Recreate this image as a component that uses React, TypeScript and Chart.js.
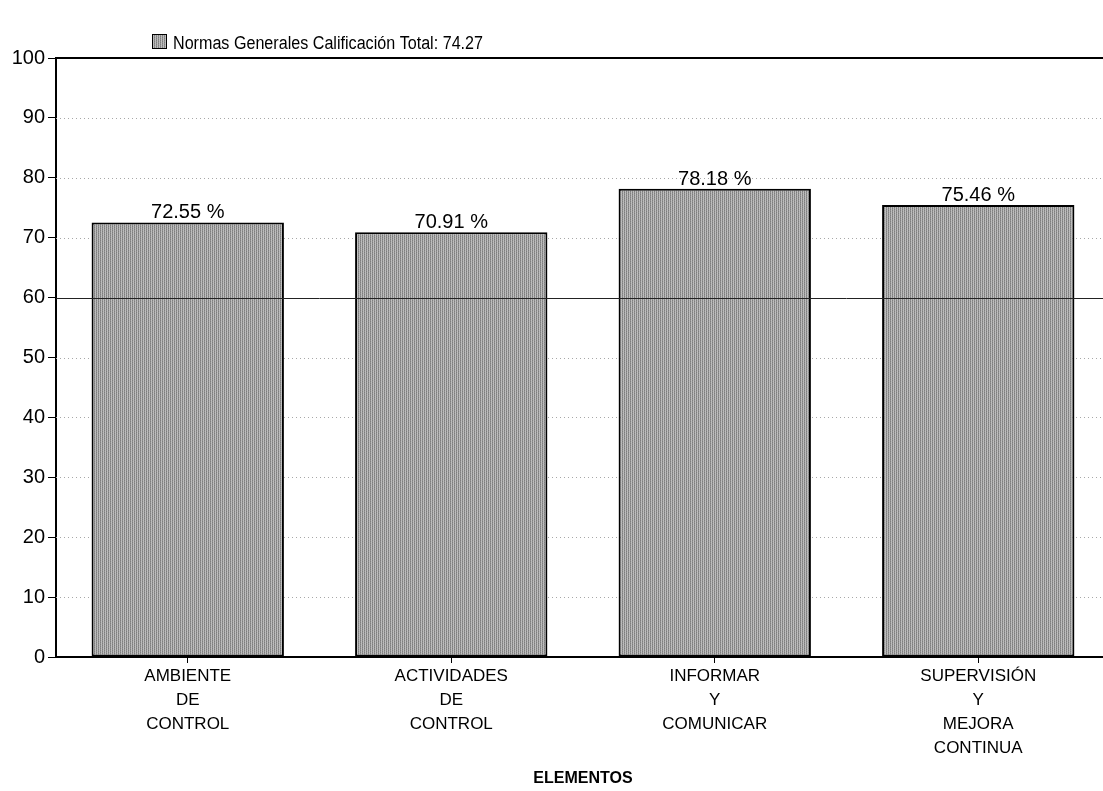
import React, { useEffect, useRef } from "react";
import { Chart, registerables } from "chart.js";

Chart.register(...registerables);

const categories: string[][] = [
  ["AMBIENTE", "DE", "CONTROL"],
  ["ACTIVIDADES", "DE", "CONTROL"],
  ["INFORMAR", "Y", "COMUNICAR"],
  ["SUPERVISIÓN", "Y", "MEJORA", "CONTINUA"],
];
const values: number[] = [72.55, 70.91, 78.18, 75.46];
const seriesLabel = "Normas Generales Calificación Total: 74.27";
const axisTitle = "ELEMENTOS";
const gridValues: number[] = [10, 20, 30, 40, 50, 70, 80, 90];
const thresholdValue = 60;
const topValue = 100;

function makePattern(): CanvasPattern | string {
  const c = document.createElement("canvas");
  c.width = 4;
  c.height = 4;
  const g = c.getContext("2d");
  if (!g) return "#a0a0a0";
  const colors = ["#7e7e7e", "#b8b8b8", "#8e8e8e", "#c0c0c0"];
  for (let y = 0; y < 4; y++) {
    for (let x = 0; x < 4; x++) {
      g.fillStyle = colors[(x + y * 2) % 4];
      g.fillRect(x, y, 1, 1);
    }
  }
  const p = g.createPattern(c, "repeat");
  return p || "#a0a0a0";
}

export default function App() {
  const ref = useRef<HTMLCanvasElement | null>(null);

  useEffect(() => {
    const canvas = ref.current;
    if (!canvas) return;
    const pattern = makePattern();

    const decor = {
      id: "decor",
      beforeDatasetsDraw(chart: any) {
        const { ctx, chartArea } = chart;
        const y = chart.scales.y;
        ctx.save();
        ctx.strokeStyle = "#a8a8a8";
        ctx.lineWidth = 1;
        ctx.setLineDash([1, 3]);
        gridValues.forEach((v) => {
          const py = Math.round(y.getPixelForValue(v)) + 0.5;
          ctx.beginPath();
          ctx.moveTo(chartArea.left, py);
          ctx.lineTo(chartArea.right, py);
          ctx.stroke();
        });
        ctx.restore();
      },
      afterDatasetsDraw(chart: any) {
        const { ctx, chartArea } = chart;
        const y = chart.scales.y;
        ctx.save();
        const p60 = Math.round(y.getPixelForValue(thresholdValue)) + 0.5;
        ctx.strokeStyle = "#222222";
        ctx.lineWidth = 1;
        ctx.beginPath();
        ctx.moveTo(chartArea.left, p60);
        ctx.lineTo(chartArea.right, p60);
        ctx.stroke();
        const p100 = Math.round(y.getPixelForValue(topValue));
        ctx.strokeStyle = "#000";
        ctx.lineWidth = 2;
        ctx.beginPath();
        ctx.moveTo(chartArea.left, p100);
        ctx.lineTo(chartArea.right, p100);
        ctx.stroke();
        const meta = chart.getDatasetMeta(0);
        ctx.fillStyle = "#000";
        ctx.font = "20px 'Liberation Sans', Arial, sans-serif";
        ctx.textAlign = "center";
        ctx.textBaseline = "alphabetic";
        meta.data.forEach((bar: any, i: number) => {
          ctx.fillText(values[i].toFixed(2) + " %", bar.x, bar.y - 4);
        });
        // legend
        ctx.fillStyle = pattern as any;
        ctx.fillRect(153, 35, 13, 13);
        ctx.strokeStyle = "#000";
        ctx.lineWidth = 1;
        ctx.strokeRect(152.5, 34.5, 14, 14);
        ctx.fillStyle = "#000";
        ctx.font = "18px 'Liberation Sans', Arial, sans-serif";
        ctx.textAlign = "left";
        const w = ctx.measureText(seriesLabel).width;
        const sx = 310 / w;
        ctx.translate(173, 49);
        ctx.scale(sx, 1);
        ctx.fillText(seriesLabel, 0, 0);
        ctx.restore();
      },
    };

    const chart = new Chart(canvas, {
      type: "bar",
      data: {
        labels: categories,
        datasets: [
          {
            label: seriesLabel,
            data: values,
            backgroundColor: pattern as any,
            borderColor: "#000",
            borderWidth: 2,
            borderSkipped: false,
            barPercentage: 0.73,
            categoryPercentage: 1,
          },
        ],
      },
      plugins: [decor],
      options: {
        responsive: false,
        animation: false,
        devicePixelRatio: 1,
        layout: { padding: { top: 58, right: 10, left: 0, bottom: 0 } },
        plugins: {
          legend: { display: false },
          tooltip: { enabled: false },
          title: { display: false },
        },
        scales: {
          x: {
            offset: true,
            grid: {
              display: true,
              drawOnChartArea: false,
              drawTicks: true,
              tickLength: 6,
              color: "#000",
              offset: false,
            },
            border: { display: true, color: "#000", width: 2 },
            ticks: {
              color: "#000",
              padding: 1,
              maxRotation: 0,
              autoSkip: false,
              font: { family: "'Liberation Sans', Arial, sans-serif", size: 17, lineHeight: 24 / 17 },
            },
            title: {
              display: true,
              text: axisTitle,
              color: "#000",
              padding: { top: 0, bottom: 3 },
              font: { family: "'Liberation Sans', Arial, sans-serif", size: 16, weight: "bold" },
            },
            afterFit(scale: any) {
              scale.height = 134;
            },
          },
          y: {
            min: 0,
            max: 100,
            ticks: {
              stepSize: 10,
              color: "#000",
              padding: 3,
              font: { family: "'Liberation Sans', Arial, sans-serif", size: 20 },
            },
            grid: {
              display: true,
              drawOnChartArea: false,
              drawTicks: true,
              tickLength: 8,
              color: "#000",
            },
            border: { display: true, color: "#000", width: 2 },
            afterFit(scale: any) {
              scale.width = 56;
            },
          },
        },
      },
    });

    return () => chart.destroy();
  }, []);

  return (
    <div
      style={{
        position: "absolute",
        left: 0,
        top: 0,
        width: 1103,
        height: 791,
        overflow: "hidden",
        background: "#fff",
      }}
    >
      <canvas ref={ref} width={1120} height={791} style={{ display: "block" }} />
    </div>
  );
}
